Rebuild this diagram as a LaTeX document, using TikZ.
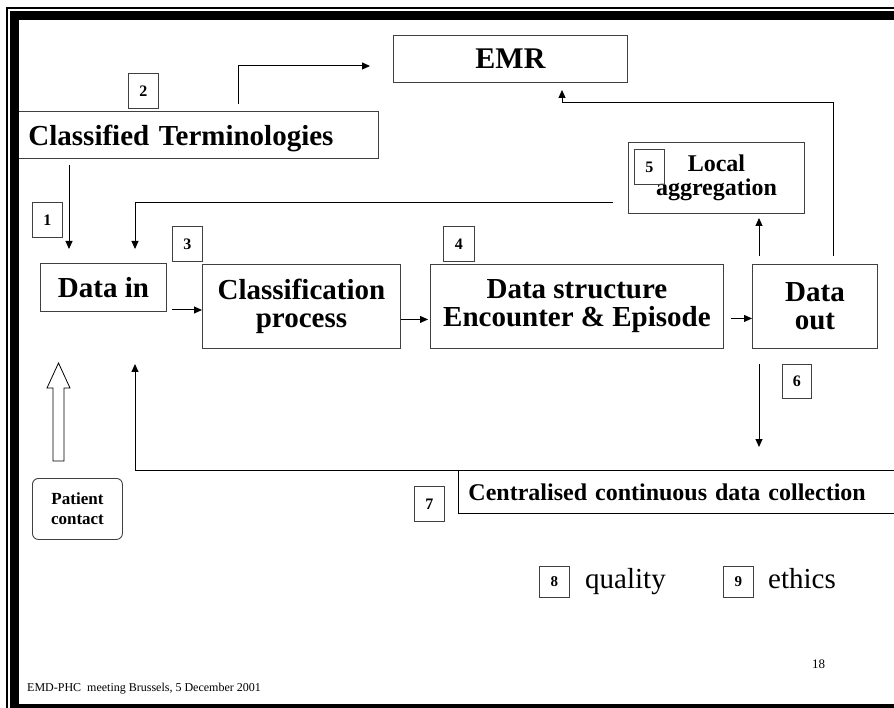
\documentclass[tikz,border=0pt]{standalone}
\usepackage{fontspec}
\setmainfont{Liberation Serif}
\usetikzlibrary{arrows.meta,calc}

\begin{document}
\begin{tikzpicture}[x=1pt,y=-1pt,
  box/.style={draw=black!75, line width=0.9pt, inner sep=0pt, anchor=north west, align=center},
  numbox/.style={box, font=\fontsize{16}{16}\selectfont\bfseries, minimum width=30pt, minimum height=35pt},
  bigbold/.style={font=\fontsize{29}{28}\selectfont\bfseries},
  midbold/.style={font=\fontsize{24}{24}\selectfont\bfseries},
  plain/.style={anchor=base west, inner sep=0pt},
  link/.style={draw=black, line width=1pt},
  arr/.style={link, -{Triangle[length=8pt,width=7pt]}},
]
\useasboundingbox (0,0) rectangle (894,708);
\clip (0,0) rectangle (894,708);
\fill[white] (0,0) rectangle (894,708);

% --- main boxes ---
\node[box, bigbold, font=\fontsize{30}{30}\selectfont\bfseries, minimum width=234pt, minimum height=47pt] (emr) at (393,35) {EMR};
\node[box, bigbold, minimum width=364pt, minimum height=47pt, text width=336pt, inner xsep=14pt, align=left, text depth=0pt] (ct) at (14,111) {Classified Terminologies};
\node[box, bigbold, minimum width=126pt, minimum height=48pt] (datain) at (40,263) {Data in};
\node[box, bigbold, minimum width=198pt, minimum height=84pt] (classif) at (202,264) {Classification\\process};
\node[box, bigbold, minimum width=293pt, minimum height=84pt] (ds) at (430,264) {Data structure\\Encounter \& Episode};
\node[box, bigbold, minimum width=125pt, minimum height=84pt] (dout) at (752,264) {Data\\out};
\node[box, midbold, minimum width=176pt, minimum height=71pt] (local) at (628,142) {Local\\aggregation};
\node[box, draw=black, midbold, minimum width=450pt, minimum height=43pt, text width=430pt, inner xsep=10pt, align=left] (centr) at (458,470) {Centralised continuous data collection};
\node[box, rounded corners=6pt, font=\fontsize{17}{20}\selectfont\bfseries, minimum width=90pt, minimum height=61pt] (patient) at (32,478) {Patient\\contact};

% --- numbered tags ---
\node[numbox] (n1) at (32,202) {1};
\node[numbox] (n2) at (128,73) {2};
\node[numbox] (n3) at (172,226) {3};
\node[numbox, minimum width=31pt] (n4) at (443,226) {4};
\node[numbox] (n5) at (634,149) {5};
\node[numbox, minimum width=29pt, minimum height=34pt] (n6) at (782,364) {6};
\node[numbox] (n7) at (414,486) {7};
\node[numbox, minimum height=31pt, font=\fontsize{15}{15}\selectfont\bfseries] (n8) at (539,566) {8};
\node[numbox, minimum height=31pt, font=\fontsize{15}{15}\selectfont\bfseries] (n9) at (723,566) {9};
\node[plain, font=\fontsize{29}{29}\selectfont] (quality) at (585,588) {quality};
\node[plain, font=\fontsize{29}{29}\selectfont] (ethics) at (768,588) {ethics};

% --- connectors ---
\coordinate (ctup) at (238,104);
\coordinate (emrin) at (370,66);
\draw[arr] (ctup) |- (emrin);

\coordinate (ctdown) at (69,165);
\coordinate (inA) at (69,249);
\draw[arr] (ctdown) -- (inA);

\coordinate (locout) at (613,203);
\coordinate (inB) at (135,249);
\draw[arr] (locout) -| (inB);

\coordinate (a3) at (172,310);
\draw[arr] (a3) -- (classif.west |- a3);

\draw[arr] ([yshift=-13pt]classif.east) -- ([xshift=-2pt,yshift=-13pt]ds.west);
\draw[arr] ([xshift=7pt,yshift=-12pt]ds.east) -- ([yshift=-12pt]dout.west);

\coordinate (outA) at (759,256);
\coordinate (locin) at (759,218);
\draw[arr] (outA) -- (locin);

\coordinate (outB) at (833,256);
\coordinate (bend) at (562,103);
\coordinate (emrup) at (562,90);
\draw[arr] (outB) |- (bend) -- (emrup);

\coordinate (outC) at (759,364);
\coordinate (outD) at (759,447);
\draw[arr] (outC) -- (outD);

\coordinate (inC) at (135,364);
\draw[arr] (centr.north west) -| (inC);

% hollow arrow from patient contact up to data in
\draw[line width=0.8pt, fill=white] (53,461) -- (53,388) -- (47,388) -- (58.5,363) -- (70,388) -- (64,388) -- (64,461) -- cycle;

% --- footer ---
\node[plain, font=\fontsize{12}{12}\selectfont] (foot) at (27,691) {EMD-PHC\ \ meeting Brussels, 5 December 2001};
\node[plain, font=\fontsize{13}{13}\selectfont] (page) at (812,668) {18};

% --- slide frame ---
\fill (6,7) rectangle (8,708);
\fill (6,7) rectangle (894,9);
\fill (10,11) rectangle (19,708);
\fill (10,11) rectangle (894,20);
\fill (10,704) rectangle (894,708);
\end{tikzpicture}
\end{document}
